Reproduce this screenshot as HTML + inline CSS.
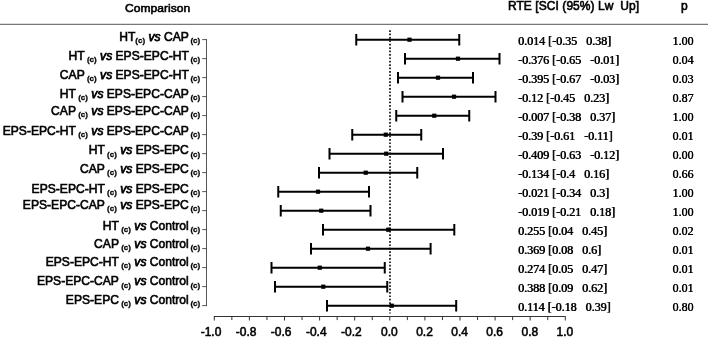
<!DOCTYPE html>
<html><head><meta charset="utf-8"><title>Forest plot</title>
<style>
html,body{margin:0;padding:0;background:#fff;}
#w{position:relative;width:708px;height:338px;overflow:hidden;background:#fff;font-family:"Liberation Sans",Arial,sans-serif;font-size:12px;color:#000;}
#w svg{position:absolute;left:0;top:0;}
.t{position:absolute;white-space:pre;line-height:14px;height:14px;-webkit-text-stroke:0.6px #000;}
.l{right:507.8px;text-align:right;font-size:12.1px;}
.l b{font-size:8px;position:relative;top:2.3px;font-weight:bold;-webkit-text-stroke:0.3px #000;}
.l i{font-style:italic;-webkit-text-stroke:0.75px #000;}
.v{font-family:"Liberation Serif","Times New Roman",serif;-webkit-text-stroke:0.15px #000;text-shadow:0.4px 0 0 #000;}
.x{font-size:12px;font-weight:normal;-webkit-text-stroke:0.55px #000;transform:translateX(-50%);}
</style></head><body><div id="w">
<svg width="708" height="338" viewBox="0 0 708 338">
<line x1="0" y1="24.3" x2="708" y2="24.3" stroke="#555" stroke-width="1"/>
<path d="M206.5 39.10V306.10" stroke="#444" stroke-width="0.9" fill="none"/>
<path d="M202.2 39.60H206.8" stroke="#444" stroke-width="0.9" fill="none"/>
<path d="M202.2 58.60H206.8" stroke="#444" stroke-width="0.9" fill="none"/>
<path d="M202.2 77.60H206.8" stroke="#444" stroke-width="0.9" fill="none"/>
<path d="M202.2 96.60H206.8" stroke="#444" stroke-width="0.9" fill="none"/>
<path d="M202.2 115.60H206.8" stroke="#444" stroke-width="0.9" fill="none"/>
<path d="M202.2 134.60H206.8" stroke="#444" stroke-width="0.9" fill="none"/>
<path d="M202.2 153.60H206.8" stroke="#444" stroke-width="0.9" fill="none"/>
<path d="M202.2 172.60H206.8" stroke="#444" stroke-width="0.9" fill="none"/>
<path d="M202.2 191.60H206.8" stroke="#444" stroke-width="0.9" fill="none"/>
<path d="M202.2 210.60H206.8" stroke="#444" stroke-width="0.9" fill="none"/>
<path d="M202.2 229.60H206.8" stroke="#444" stroke-width="0.9" fill="none"/>
<path d="M202.2 248.60H206.8" stroke="#444" stroke-width="0.9" fill="none"/>
<path d="M202.2 267.60H206.8" stroke="#444" stroke-width="0.9" fill="none"/>
<path d="M202.2 286.60H206.8" stroke="#444" stroke-width="0.9" fill="none"/>
<path d="M202.2 305.60H206.8" stroke="#444" stroke-width="0.9" fill="none"/>
<path d="M213.90 316.5H565.70" stroke="#333" stroke-width="1" fill="none"/>
<path d="M214.30 316.5V320.50" stroke="#333" stroke-width="1" fill="none"/>
<path d="M231.85 316.5V320.10" stroke="#333" stroke-width="1" fill="none"/>
<path d="M249.40 316.5V320.50" stroke="#333" stroke-width="1" fill="none"/>
<path d="M266.95 316.5V320.10" stroke="#333" stroke-width="1" fill="none"/>
<path d="M284.50 316.5V320.50" stroke="#333" stroke-width="1" fill="none"/>
<path d="M302.05 316.5V320.10" stroke="#333" stroke-width="1" fill="none"/>
<path d="M319.60 316.5V320.50" stroke="#333" stroke-width="1" fill="none"/>
<path d="M337.15 316.5V320.10" stroke="#333" stroke-width="1" fill="none"/>
<path d="M354.70 316.5V320.50" stroke="#333" stroke-width="1" fill="none"/>
<path d="M372.25 316.5V320.10" stroke="#333" stroke-width="1" fill="none"/>
<path d="M389.80 316.5V320.50" stroke="#333" stroke-width="1" fill="none"/>
<path d="M407.35 316.5V320.10" stroke="#333" stroke-width="1" fill="none"/>
<path d="M424.90 316.5V320.50" stroke="#333" stroke-width="1" fill="none"/>
<path d="M442.45 316.5V320.10" stroke="#333" stroke-width="1" fill="none"/>
<path d="M460.00 316.5V320.50" stroke="#333" stroke-width="1" fill="none"/>
<path d="M477.55 316.5V320.10" stroke="#333" stroke-width="1" fill="none"/>
<path d="M495.10 316.5V320.50" stroke="#333" stroke-width="1" fill="none"/>
<path d="M512.65 316.5V320.10" stroke="#333" stroke-width="1" fill="none"/>
<path d="M530.20 316.5V320.50" stroke="#333" stroke-width="1" fill="none"/>
<path d="M547.75 316.5V320.10" stroke="#333" stroke-width="1" fill="none"/>
<path d="M565.30 316.5V320.50" stroke="#333" stroke-width="1" fill="none"/>
<path d="M390 30.2V313.5" stroke="#111" stroke-width="1.7" stroke-dasharray="1.7 1.7" fill="none"/>
<path d="M356.25 39.70H459.25M356.25 33.90v11.6M459.25 33.90v11.6" stroke="#000" stroke-width="2" fill="none"/>
<rect x="407.40" y="37.60" width="4.2" height="4.2" fill="#000"/>
<path d="M405.00 58.70H499.50M405.00 52.90v11.6M499.50 52.90v11.6" stroke="#000" stroke-width="2" fill="none"/>
<rect x="455.90" y="56.60" width="4.2" height="4.2" fill="#000"/>
<path d="M398.00 77.70H473.00M398.00 71.90v11.6M473.00 71.90v11.6" stroke="#000" stroke-width="2" fill="none"/>
<rect x="435.90" y="75.60" width="4.2" height="4.2" fill="#000"/>
<path d="M402.50 96.70H495.50M402.50 90.90v11.6M495.50 90.90v11.6" stroke="#000" stroke-width="2" fill="none"/>
<rect x="451.90" y="94.60" width="4.2" height="4.2" fill="#000"/>
<path d="M396.25 115.70H469.25M396.25 109.90v11.6M469.25 109.90v11.6" stroke="#000" stroke-width="2" fill="none"/>
<rect x="432.15" y="113.60" width="4.2" height="4.2" fill="#000"/>
<path d="M352.25 134.70H421.25M352.25 128.90v11.6M421.25 128.90v11.6" stroke="#000" stroke-width="2" fill="none"/>
<rect x="383.65" y="132.60" width="4.2" height="4.2" fill="#000"/>
<path d="M329.50 153.70H443.00M329.50 147.90v11.6M443.00 147.90v11.6" stroke="#000" stroke-width="2" fill="none"/>
<rect x="384.15" y="151.60" width="4.2" height="4.2" fill="#000"/>
<path d="M319.00 172.70H417.25M319.00 166.90v11.6M417.25 166.90v11.6" stroke="#000" stroke-width="2" fill="none"/>
<rect x="363.65" y="170.60" width="4.2" height="4.2" fill="#000"/>
<path d="M278.25 191.70H369.00M278.25 185.90v11.6M369.00 185.90v11.6" stroke="#000" stroke-width="2" fill="none"/>
<rect x="315.90" y="189.60" width="4.2" height="4.2" fill="#000"/>
<path d="M280.75 210.70H370.50M280.75 204.90v11.6M370.50 204.90v11.6" stroke="#000" stroke-width="2" fill="none"/>
<rect x="319.15" y="208.60" width="4.2" height="4.2" fill="#000"/>
<path d="M323.00 229.70H454.30M323.00 223.90v11.6M454.30 223.90v11.6" stroke="#000" stroke-width="2" fill="none"/>
<rect x="386.15" y="227.60" width="4.2" height="4.2" fill="#000"/>
<path d="M311.00 248.70H430.60M311.00 242.90v11.6M430.60 242.90v11.6" stroke="#000" stroke-width="2" fill="none"/>
<rect x="365.90" y="246.60" width="4.2" height="4.2" fill="#000"/>
<path d="M271.50 267.70H384.75M271.50 261.90v11.6M384.75 261.90v11.6" stroke="#000" stroke-width="2" fill="none"/>
<rect x="317.65" y="265.60" width="4.2" height="4.2" fill="#000"/>
<path d="M275.00 286.70H387.25M275.00 280.90v11.6M387.25 280.90v11.6" stroke="#000" stroke-width="2" fill="none"/>
<rect x="321.15" y="284.60" width="4.2" height="4.2" fill="#000"/>
<path d="M327.00 305.70H456.20M327.00 299.90v11.6M456.20 299.90v11.6" stroke="#000" stroke-width="2" fill="none"/>
<rect x="389.65" y="303.60" width="4.2" height="4.2" fill="#000"/>
</svg>
<div class="t" style="left:124.7px;top:1.1px;transform:scale(1.008,0.95);transform-origin:0 11px">Comparison</div>
<div class="t" style="left:507.9px;top:-0.8px;letter-spacing:0.07px">RTE [SCI (95%) Lw  Up]</div>
<div class="t" style="left:680.9px;top:-0.8px">p</div>
<div class="t l" style="top:30.00px">HT<b>(c)</b> <i>vs</i> CAP<b style="margin-left:-0.6px"> (c)</b></div>
<div class="t l" style="top:49.00px">HT<b> (c)</b> <i>vs</i> EPS-EPC-HT<b style="margin-left:-0.6px"> (c)</b></div>
<div class="t l" style="top:68.00px">CAP<b> (c)</b> <i>vs</i> EPS-EPC-HT<b style="margin-left:-0.6px"> (c)</b></div>
<div class="t l" style="top:87.00px">HT<b> (c)</b> <i>vs</i> EPS-EPC-CAP<b style="margin-left:-0.6px"> (c)</b></div>
<div class="t l" style="top:104.10px">CAP<b> (c)</b> <i>vs</i> EPS-EPC-CAP<b style="margin-left:-0.6px"> (c)</b></div>
<div class="t l" style="top:124.10px">EPS-EPC-HT<b> (c)</b> <i>vs</i> EPS-EPC-CAP<b style="margin-left:-0.6px"> (c)</b></div>
<div class="t l" style="top:143.40px">HT<b> (c)</b> <i>vs</i> EPS-EPC<b style="margin-left:-0.6px"> (c)</b></div>
<div class="t l" style="top:161.90px">CAP<b> (c)</b> <i>vs</i> EPS-EPC<b style="margin-left:-0.6px"> (c)</b></div>
<div class="t l" style="top:181.55px">EPS-EPC-HT<b> (c)</b> <i>vs</i> EPS-EPC<b style="margin-left:-0.6px"> (c)</b></div>
<div class="t l" style="top:198.00px">EPS-EPC-CAP<b> (c)</b> <i>vs</i> EPS-EPC<b style="margin-left:-0.6px"> (c)</b></div>
<div class="t l" style="top:218.80px">HT<b> (c)</b> <i>vs</i> <span style="letter-spacing:0px">Control</span><b style="margin-left:-0.6px"> (c)</b></div>
<div class="t l" style="top:236.65px">CAP<b> (c)</b> <i>vs</i> <span style="letter-spacing:0px">Control</span><b style="margin-left:-0.6px"> (c)</b></div>
<div class="t l" style="top:255.00px">EPS-EPC-HT<b> (c)</b> <i>vs</i> <span style="letter-spacing:0px">Control</span><b style="margin-left:-0.6px"> (c)</b></div>
<div class="t l" style="top:274.30px">EPS-EPC-CAP<b> (c)</b> <i>vs</i> <span style="letter-spacing:0px">Control</span><b style="margin-left:-0.6px"> (c)</b></div>
<div class="t l" style="top:293.15px">EPS-EPC<b> (c)</b> <i>vs</i> <span style="letter-spacing:0px">Control</span><b style="margin-left:-0.6px"> (c)</b></div>
<div class="t v" style="left:518px;top:34.20px">0.014 [-0.35   0.38]</div>
<div class="t v" style="left:672.4px;top:34.20px">1.00</div>
<div class="t v" style="left:518px;top:53.20px">-0.376 [-0.65   -0.01]</div>
<div class="t v" style="left:672.4px;top:53.20px">0.04</div>
<div class="t v" style="left:518px;top:72.20px">-0.395 [-0.67   -0.03]</div>
<div class="t v" style="left:672.4px;top:72.20px">0.03</div>
<div class="t v" style="left:518px;top:91.20px">-0.12 [-0.45   0.23]</div>
<div class="t v" style="left:672.4px;top:91.20px">0.87</div>
<div class="t v" style="left:518px;top:110.20px">-0.007 [-0.38   0.37]</div>
<div class="t v" style="left:672.4px;top:110.20px">1.00</div>
<div class="t v" style="left:518px;top:129.20px">-0.39 [-0.61   -0.11]</div>
<div class="t v" style="left:672.4px;top:129.20px">0.01</div>
<div class="t v" style="left:518px;top:148.20px">-0.409 [-0.63   -0.12]</div>
<div class="t v" style="left:672.4px;top:148.20px">0.00</div>
<div class="t v" style="left:518px;top:167.20px">-0.134 [-0.4   0.16]</div>
<div class="t v" style="left:672.4px;top:167.20px">0.66</div>
<div class="t v" style="left:518px;top:186.20px">-0.021 [-0.34   0.3]</div>
<div class="t v" style="left:672.4px;top:186.20px">1.00</div>
<div class="t v" style="left:518px;top:205.20px">-0.019 [-0.21   0.18]</div>
<div class="t v" style="left:672.4px;top:205.20px">1.00</div>
<div class="t v" style="left:518px;top:224.20px">0.255 [0.04   0.45]</div>
<div class="t v" style="left:672.4px;top:224.20px">0.02</div>
<div class="t v" style="left:518px;top:243.20px">0.369 [0.08   0.6]</div>
<div class="t v" style="left:672.4px;top:243.20px">0.01</div>
<div class="t v" style="left:518px;top:262.20px">0.274 [0.05   0.47]</div>
<div class="t v" style="left:672.4px;top:262.20px">0.01</div>
<div class="t v" style="left:518px;top:281.20px">0.388 [0.09   0.62]</div>
<div class="t v" style="left:672.4px;top:281.20px">0.01</div>
<div class="t v" style="left:518px;top:300.20px">0.114 [-0.18   0.39]</div>
<div class="t v" style="left:672.4px;top:300.20px">0.80</div>
<div class="t x" style="left:211.00px;top:324.9px">-1.0</div>
<div class="t x" style="left:246.10px;top:324.9px">-0.8</div>
<div class="t x" style="left:281.20px;top:324.9px">-0.6</div>
<div class="t x" style="left:316.30px;top:324.9px">-0.4</div>
<div class="t x" style="left:351.40px;top:324.9px">-0.2</div>
<div class="t x" style="left:389.40px;top:324.9px">0.0</div>
<div class="t x" style="left:424.50px;top:324.9px">0.2</div>
<div class="t x" style="left:459.60px;top:324.9px">0.4</div>
<div class="t x" style="left:494.70px;top:324.9px">0.6</div>
<div class="t x" style="left:529.80px;top:324.9px">0.8</div>
<div class="t x" style="left:564.90px;top:324.9px">1.0</div>
</div></body></html>
